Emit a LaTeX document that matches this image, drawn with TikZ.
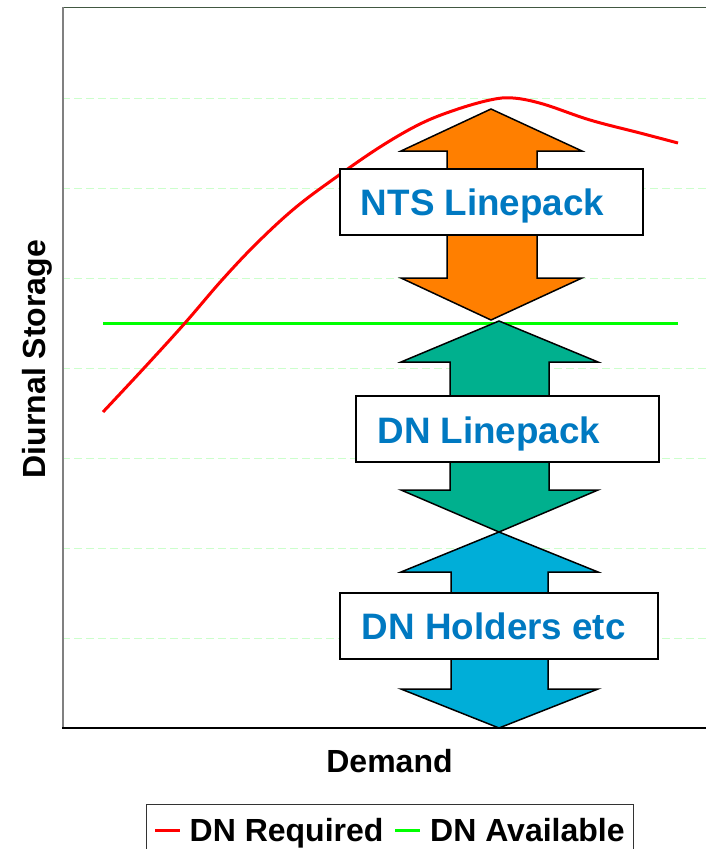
\documentclass[tikz,border=0pt]{standalone}
\usepackage{fontspec}
\setmainfont{Liberation Sans}
\definecolor{gridgreen}{HTML}{CCFFCC}
\definecolor{axisgray}{HTML}{808080}
\definecolor{ntsorange}{HTML}{FF7F00}
\definecolor{dnteal}{HTML}{00B08E}
\definecolor{holderblue}{HTML}{00AED8}
\definecolor{labelblue}{HTML}{0079C1}
\definecolor{reqred}{HTML}{FF0000}
\definecolor{availgreen}{HTML}{00FF00}
\tikzset{
  gridline/.style={gridgreen, line width=1pt, dash pattern=on 8pt off 4pt},
  bigarrow/.style={draw=black, line width=1.5pt, line join=miter},
  storebox/.style={draw=black, line width=1.5pt, fill=white, minimum width=303pt, minimum height=66pt, inner sep=0pt},
  storetext/.style={anchor=base west, inner sep=0pt, text=labelblue, font=\bfseries\fontsize{36.8}{40}\selectfont},
  axistext/.style={inner sep=0pt, font=\bfseries\fontsize{32}{36}\selectfont},
}
\begin{document}
\begin{tikzpicture}[x=1pt, y=-1pt]
\useasboundingbox (0,0) rectangle (706,849);

% horizontal grid
\foreach \gy in {98,188,278,368,458,548,638}
  \draw[gridline] (62,\gy) -- (706,\gy);

% plot frame
\draw[axisgray!85!green!60!black, line width=1.5pt] (62,7.5) -- (706,7.5);
\draw[axisgray, line width=2pt] (62.5,7) -- (62.5,728);
\draw[black, line width=1.5pt] (62,728) -- (706,728);

% DN Available
\coordinate (avA) at (103,323);
\coordinate (avB) at (678,323);
\draw[availgreen, line width=3pt] (avA) -- (avB);

% DN Required
\draw[reqred, line width=3pt, line join=round] plot[smooth, tension=0.6] coordinates {
  (103,412) (145,367) (185,323) (222,280) (257,243) (295,208) (335,178)
  (380,147) (420,124) (455,110) (490,100) (513,98) (543,104) (590,120)
  (640,133) (678,143)};

% NTS linepack double arrow
\draw[bigarrow, fill=ntsorange] (491,109) -- (582,151) -- (537,151) -- (537,278)
  -- (582,278) -- (491,320) -- (401,278) -- (447,278) -- (447,151) -- (401,151) -- cycle;

% DN linepack double arrow
\draw[bigarrow, fill=dnteal] (499,321) -- (598,362) -- (549,362) -- (549,490)
  -- (598,490) -- (499,532) -- (401,490) -- (450,490) -- (450,362) -- (401,362) -- cycle;

% DN holders double arrow
\draw[bigarrow, fill=holderblue] (499,532) -- (598,572) -- (548,572) -- (548,689)
  -- (598,689) -- (499,728) -- (401,689) -- (451,689) -- (451,572) -- (401,572) -- cycle;

% labelled boxes
\node[storebox] (nts) at (491.5,202) {};
\node[storetext] (ntsT) at ([shift={(21.5,-20)}]nts.south west) {NTS Linepack};

\node[storebox] (dnl) at (507.5,429) {};
\node[storetext] (dnlT) at ([shift={(22,-19.6)}]dnl.south west) {DN Linepack};

\node[storebox, minimum width=318pt] (dnh) at (499,626) {};
\node[storetext] (dnhT) at ([shift={(22.5,-20.7)}]dnh.south west) {DN Holders etc};

% axis titles
\node[axistext, anchor=base, rotate=90] (ylab) at (45,359) {Diurnal Storage};
\node[axistext, anchor=base] (xlab) at (389.5,772.7) {Demand};

% legend
\node[draw=black!80, line width=1pt, minimum width=487pt, minimum height=70pt, anchor=north west, inner sep=0pt] (legend) at (146,804) {};
\coordinate (reqA) at (155,830);
\coordinate (reqB) at (180,830);
\draw[reqred, line width=3pt] (reqA) -- (reqB);
\node[axistext, anchor=base west] (reqT) at (189.5,841.5) {DN Required};
\coordinate (avlA) at (395,830);
\coordinate (avlB) at (420,830);
\draw[availgreen, line width=3pt] (avlA) -- (avlB);
\node[axistext, anchor=base west] (avlT) at (430,841.5) {DN Available};
\end{tikzpicture}
\end{document}
